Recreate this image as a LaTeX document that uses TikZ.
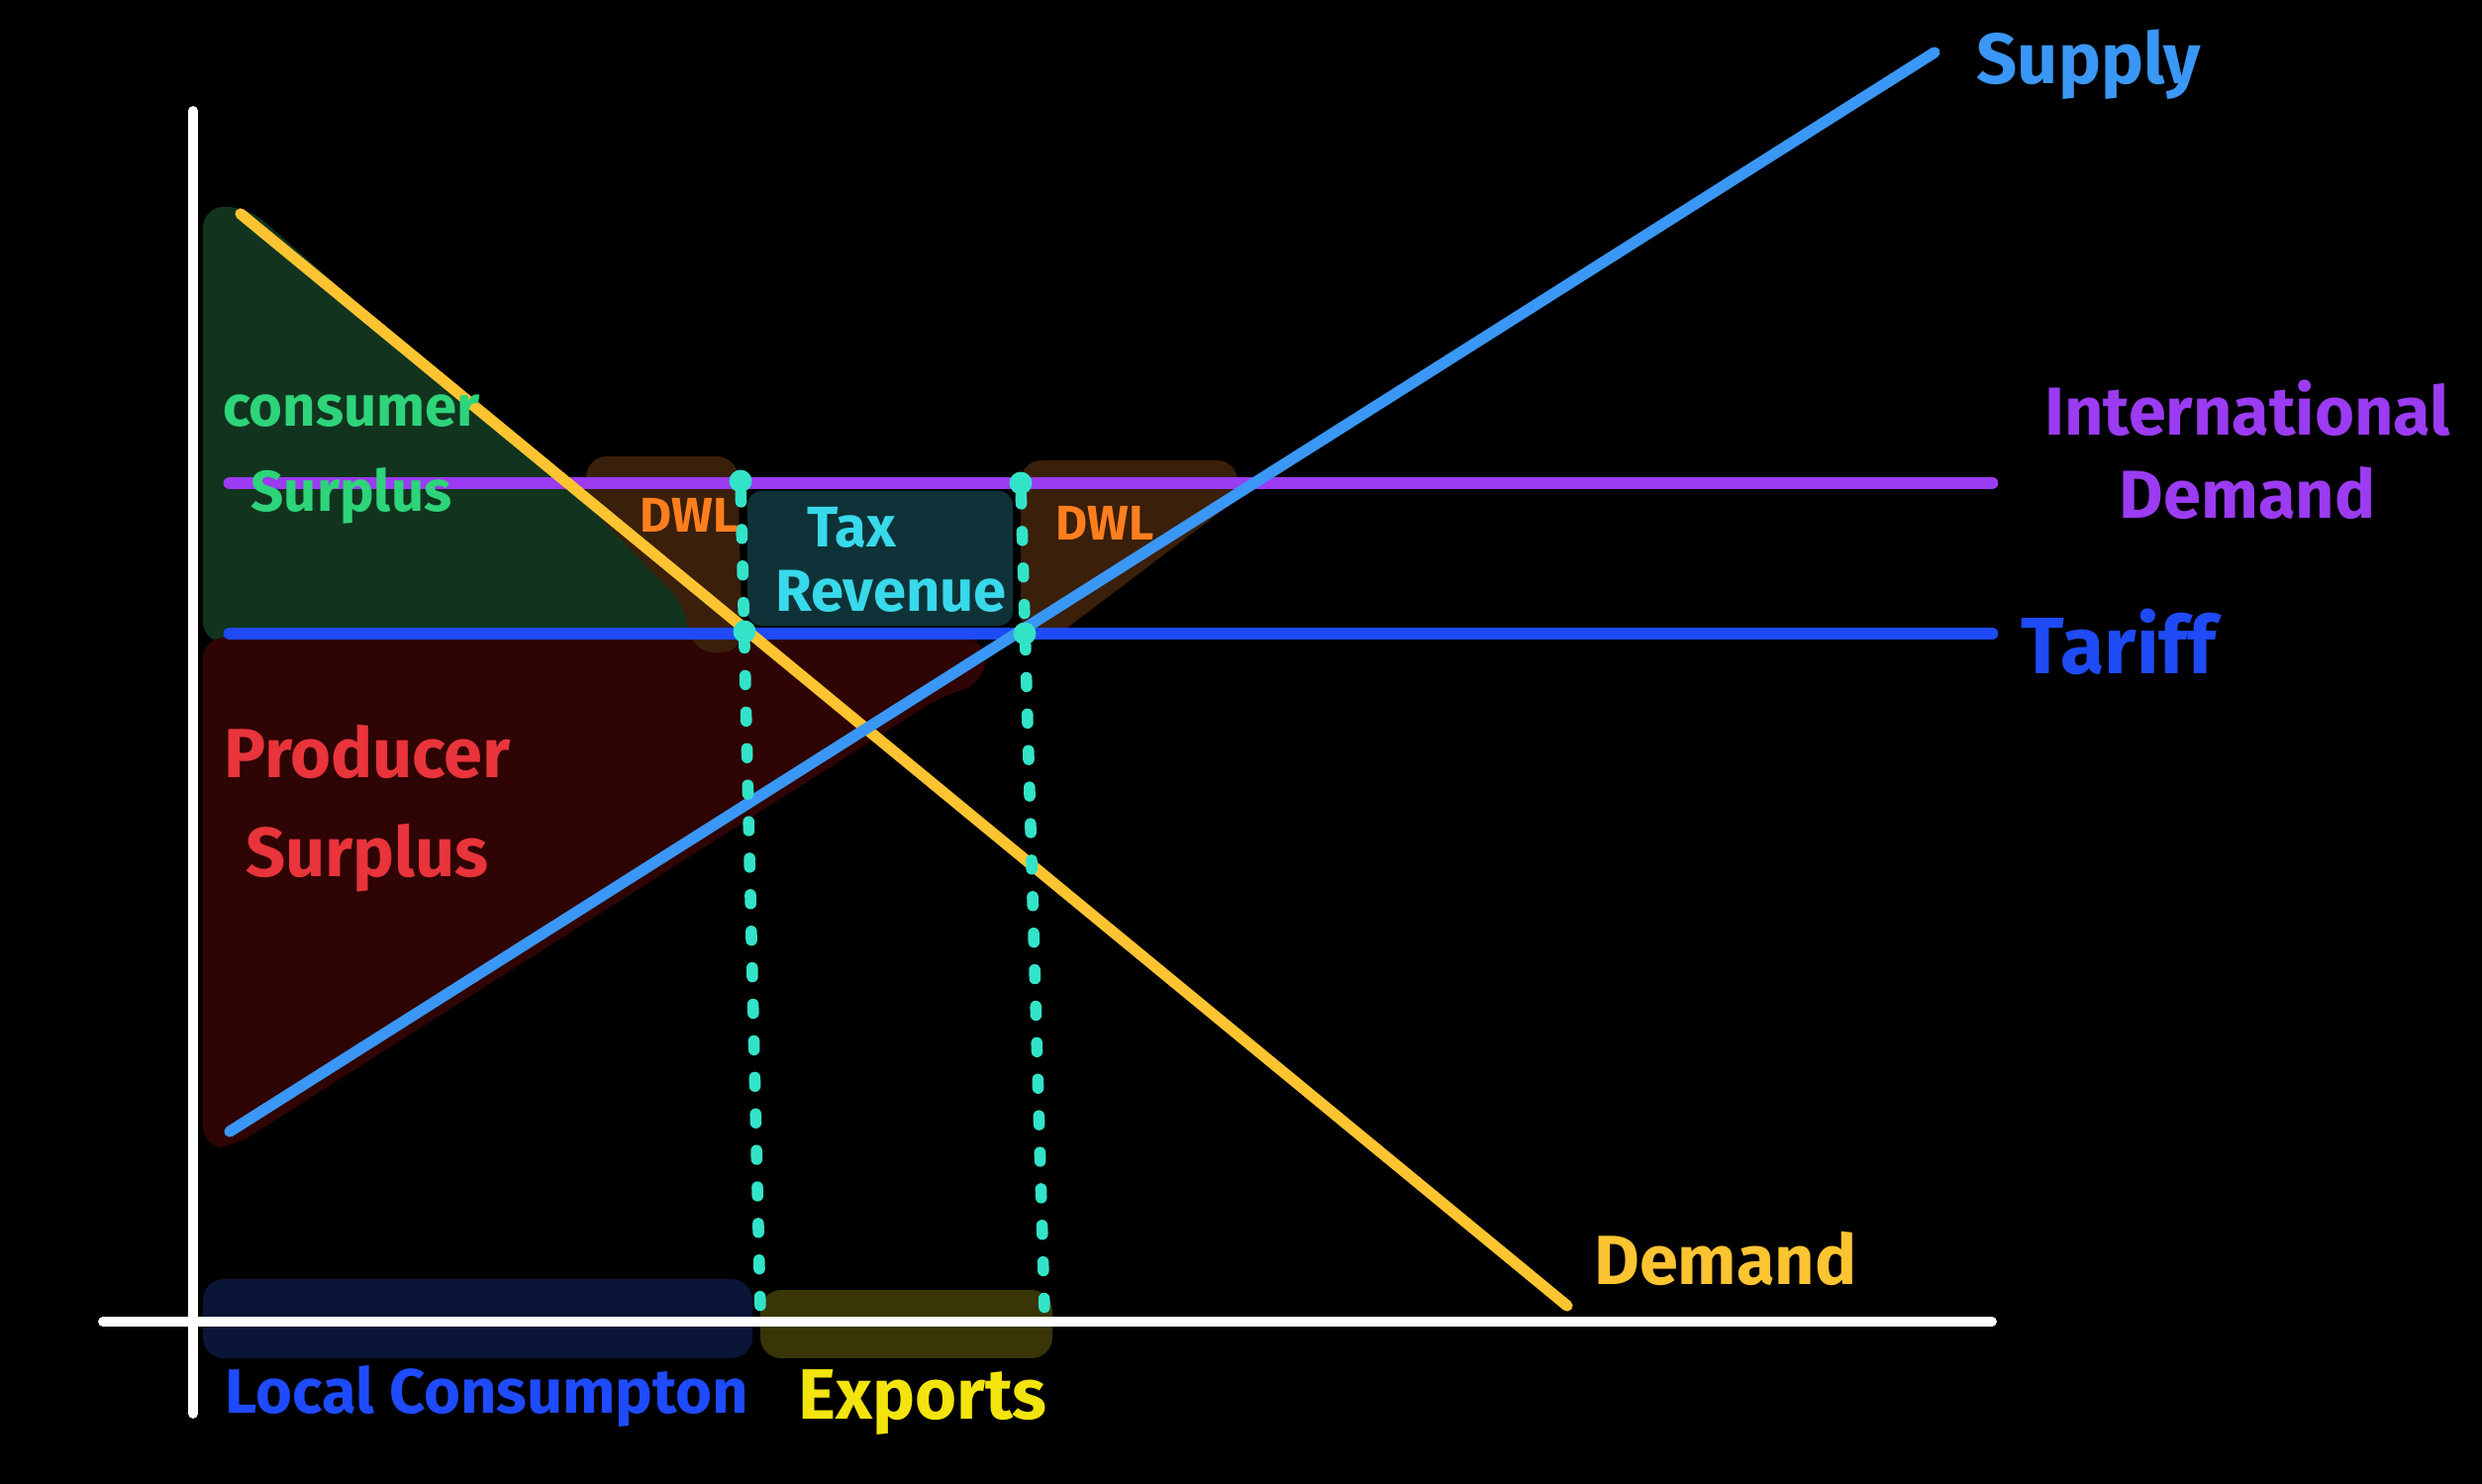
\documentclass[tikz,border=0pt]{standalone}
\usepackage{fontspec}
\setmainfont{Fira Sans}
\definecolor{demandyellow}{HTML}{FDC431}
\definecolor{supplyblue}{HTML}{3A97F5}
\definecolor{intpurple}{HTML}{9B3BF2}
\definecolor{tariffblue}{HTML}{1E4BF5}
\definecolor{dotteal}{HTML}{33E3C8}
\definecolor{csfill}{HTML}{12341F}
\definecolor{cstext}{HTML}{2ED47A}
\definecolor{psfill}{HTML}{2E0404}
\definecolor{pstext}{HTML}{E8343A}
\definecolor{dwlfill}{HTML}{3A1F0A}
\definecolor{dwltext}{HTML}{FF7F1F}
\definecolor{taxfill}{HTML}{0E3237}
\definecolor{taxtext}{HTML}{38D9EA}
\definecolor{localfill}{HTML}{0A1538}
\definecolor{localtext}{HTML}{1E4BFF}
\definecolor{exportfill}{HTML}{3A3506}
\definecolor{exporttext}{HTML}{F2E40C}
\usetikzlibrary{positioning,calc}

\begin{document}
\begin{tikzpicture}[
    curve/.style={line width=3.2pt,line cap=round},
    axisline/.style={white,line width=2.8pt,line cap=round},
    dotline/.style={dotteal,line width=3.3pt,line cap=round,dash pattern=on 2.5pt off 8pt},
    knot/.style={circle,fill=dotteal,inner sep=0pt,minimum size=6.5pt},
    lbl/.style 2 args={font=\fontsize{#1}{#2}\selectfont\bfseries,inner sep=0pt,align=center}
  ]
    \fill[black] (0,0) rectangle (25.07,14.99);
    \useasboundingbox (0,0) rectangle (25.07,14.99);

    % Shaded areas
    \fill[csfill,rounded corners=6pt] (2.05,12.9) -- (2.5,12.9) -- (7.5,8.5) -- (2.05,8.5) -- cycle;
    \fill[psfill,rounded corners=6pt] (2.05,8.55) -- (9.95,8.55) -- (9.95,8.1) -- (9.5,7.95)
      -- (2.35,3.4) -- (2.05,3.4) -- cycle;
    \fill[dwlfill,rounded corners=6pt] (5.92,10.38) -- (7.45,10.38) -- (7.5,8.4) -- (7.0,8.4)
      -- (6.9,8.9) -- (5.92,9.9) -- cycle;
    \fill[dwlfill,rounded corners=6pt] (10.31,10.34) -- (12.5,10.34) -- (12.5,9.95)
      -- (10.65,8.55) -- (10.31,8.55) -- cycle;
    \fill[taxfill,rounded corners=4pt] (7.55,10.03) rectangle (10.23,8.67);
    \fill[localfill,rounded corners=6pt] (2.05,2.07) rectangle (7.6,1.27);
    \fill[exportfill,rounded corners=6pt] (7.68,1.96) rectangle (10.63,1.27);

    % Axes
    \coordinate (yTop) at (1.95,13.87);
    \coordinate (yBot) at (1.95,0.71);
    \coordinate (xLeft) at (1.04,1.64);
    \coordinate (xRight) at (20.12,1.64);
    \draw[axisline] (yTop) -- (yBot);
    \draw[axisline] (xLeft) -- (xRight);

    % Price lines
    \coordinate (worldL) at (2.32,10.11);
    \coordinate (worldR) at (20.12,10.11);
    \coordinate (tariffL) at (2.32,8.59);
    \coordinate (tariffR) at (20.12,8.59);
    \draw[curve,intpurple,line width=3.6pt] (worldL) -- (worldR);
    \draw[curve,tariffblue,line width=3.6pt] (tariffL) -- (tariffR);

    % Demand and supply
    \coordinate (demTop) at (2.43,12.83);
    \coordinate (demBot) at (15.83,1.80);
    \coordinate (supBot) at (2.32,3.56);
    \coordinate (supTop) at (19.54,14.46);
    \draw[curve,demandyellow] (demTop) -- (demBot);
    \draw[curve,supplyblue] (supBot) -- (supTop);

    % Quantity markers
    \node[knot] (qLtop) at (7.48,10.13) {};
    \node[knot] (qLmid) at (7.52,8.61) {};
    \node[knot] (qRtop) at (10.31,10.11) {};
    \node[knot] (qRmid) at (10.35,8.59) {};
    \coordinate (qLbot) at (7.68,1.75);
    \coordinate (qRbot) at (10.55,1.75);
    \draw[dotline] (qLtop) -- (qLbot);
    \draw[dotline] (qRtop) -- (qRbot);

    % Labels
    \node[lbl={20.5}{24},supplyblue] (supLbl) at (21.10,14.34) {Supply};
    \node[lbl={19.5}{24},intpurple] (intLbl) at (22.70,10.45) {International\\Demand};
    \node[lbl={23}{26},tariffblue] (tarLbl) at (21.40,8.51) {Tariff};
    \node[lbl={20}{24},demandyellow] (demLbl) at (17.43,2.28) {Demand};
    \node[lbl={16.5}{24.5},cstext] (csLbl) at (3.55,10.35) {consumer\\Surplus};
    \node[lbl={20}{28.5},pstext] (psLbl) at (3.71,6.82) {Producer\\Surplus};
    \node[lbl={14}{16},dwltext] (dwlL) at (6.96,9.79) {DWL};
    \node[lbl={14}{16},dwltext] (dwlR) at (11.16,9.71) {DWL};
    \node[lbl={16.5}{18},taxtext] (taxLbl) at (8.60,9.66) {Tax};
    \node[lbl={17}{18},taxtext] (revLbl) at (9.00,9.02) {Revenue};
    \node[lbl={18}{20},localtext] (locLbl) at (4.92,0.88) {Local Consumpton};
    \node[lbl={20.5}{22},exporttext] (expLbl) at (9.32,0.82) {Exports};
  \end{tikzpicture}
\end{document}
